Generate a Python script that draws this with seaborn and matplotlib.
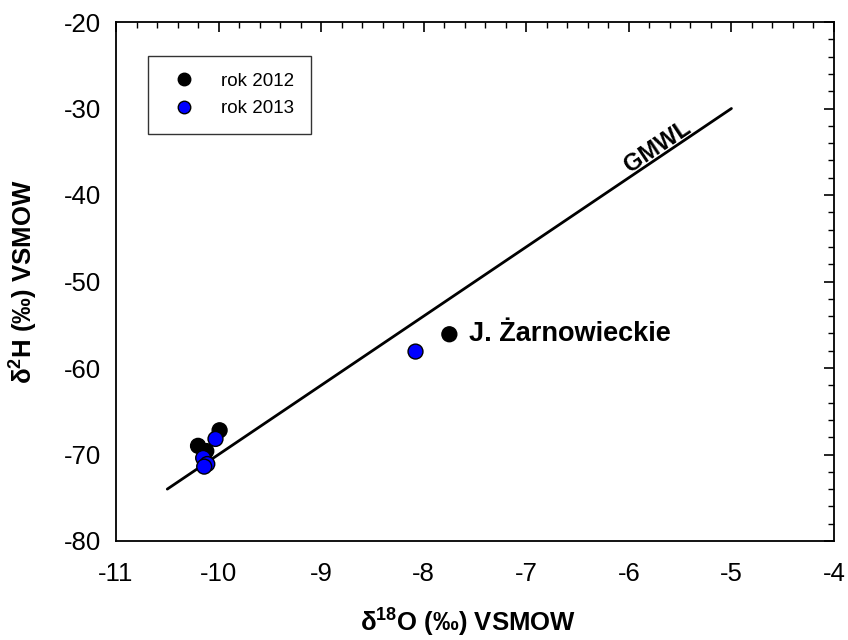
import numpy as np
import pandas as pd
import matplotlib
matplotlib.use("Agg")
import matplotlib.pyplot as plt
import seaborn as sns
from matplotlib.ticker import MultipleLocator
from matplotlib.lines import Line2D

# Data
x_2012 = [-10.20, -10.12, -9.99, -7.75]
y_2012 = [-69.0, -69.6, -67.2, -56.1]
x_2013 = [-10.03, -10.15, -10.11, -10.14, -8.08]
y_2013 = [-68.2, -70.4, -71.1, -71.4, -58.1]
series_labels = ["rok 2012", "rok 2013"]
gmwl_x = [-10.5, -5.0]
gmwl_y = [-74.0, -30.0]  # d2H = 8*d18O + 10

sns.set_style("white")
plt.rcParams['font.family'] = ['Liberation Sans', 'DejaVu Sans']
plt.rcParams['axes.unicode_minus'] = False
plt.rcParams['mathtext.fontset'] = 'custom'
plt.rcParams['mathtext.rm'] = 'Liberation Sans'
plt.rcParams['mathtext.bf'] = 'Liberation Sans:bold'
plt.rcParams['mathtext.default'] = 'bf'
for k in ['text.color', 'axes.labelcolor', 'xtick.color', 'ytick.color']:
    plt.rcParams[k] = 'black'

df = pd.DataFrame({
    "x": x_2012 + x_2013,
    "y": y_2012 + y_2013,
    "rok": [series_labels[0]] * len(x_2012) + [series_labels[1]] * len(x_2013),
})

fig = plt.figure(figsize=(8.48, 6.4), dpi=100)
ax = fig.add_axes([116/848, 1 - 541/640, (834-116)/848, (541-22)/640])

ax.plot(gmwl_x, gmwl_y, color="black", lw=2, zorder=1)

sns.scatterplot(data=df, x="x", y="y", hue="rok",
                palette={series_labels[0]: "black", series_labels[1]: "#0000ff"},
                s=115, edgecolor="black", linewidth=1, ax=ax, zorder=3, legend=False)

ax.set_xlim(-11, -4)
ax.set_ylim(-80, -20)
ax.xaxis.set_major_locator(MultipleLocator(1))
ax.xaxis.set_minor_locator(MultipleLocator(0.2))
ax.yaxis.set_major_locator(MultipleLocator(10))
ax.yaxis.set_minor_locator(MultipleLocator(2))
ax.tick_params(which="both", direction="in", top=True, right=True, labelsize=18.5,
               color="black", labelcolor="black")
ax.tick_params(which="major", length=7, width=1.2)
ax.tick_params(which="minor", length=4, width=1)
ax.tick_params(axis="x", which="major", pad=15)
ax.tick_params(axis="y", which="major", pad=10.5)
for sp in ax.spines.values():
    sp.set_color("black")
    sp.set_linewidth(1.3)

ax.set_xlabel("δ$^{18}$O (‰) VSMOW", fontsize=18.5, fontweight="bold")
ax.set_ylabel("δ$^{2}$H (‰) VSMOW", fontsize=18.5, fontweight="bold")
ax.xaxis.label.set_va("center")
ax.yaxis.label.set_va("center")
ax.xaxis.set_label_coords(0.49, (541 - 623) / 519)
ax.yaxis.set_label_coords((24 - 116) / 718, 0.5)

ax.text(-7.56, -56.1, "J. Żarnowieckie", fontsize=19.5, fontweight="bold", va="center", ha="left")
ang = np.degrees(np.arctan2(8 * 8.6, 102.6))
ax.text(-5.72, -34.4, "GMWL", fontsize=17, fontweight="bold", rotation=ang,
        rotation_mode="anchor", ha="center", va="center")

handles = [Line2D([], [], marker="o", ls="", markerfacecolor=c, markeredgecolor="black",
                  markersize=9) for c in ["black", "#0000ff"]]
leg = ax.legend(handles, series_labels, loc="upper left", bbox_to_anchor=(0.045, 0.935),
                fontsize=13.5, frameon=True, fancybox=False, borderpad=0.9,
                handletextpad=1.0, labelspacing=0.55, borderaxespad=0)
leg.get_frame().set_edgecolor("black")
leg.get_frame().set_linewidth(1.0)

fig.savefig("out.png", dpi=100)
